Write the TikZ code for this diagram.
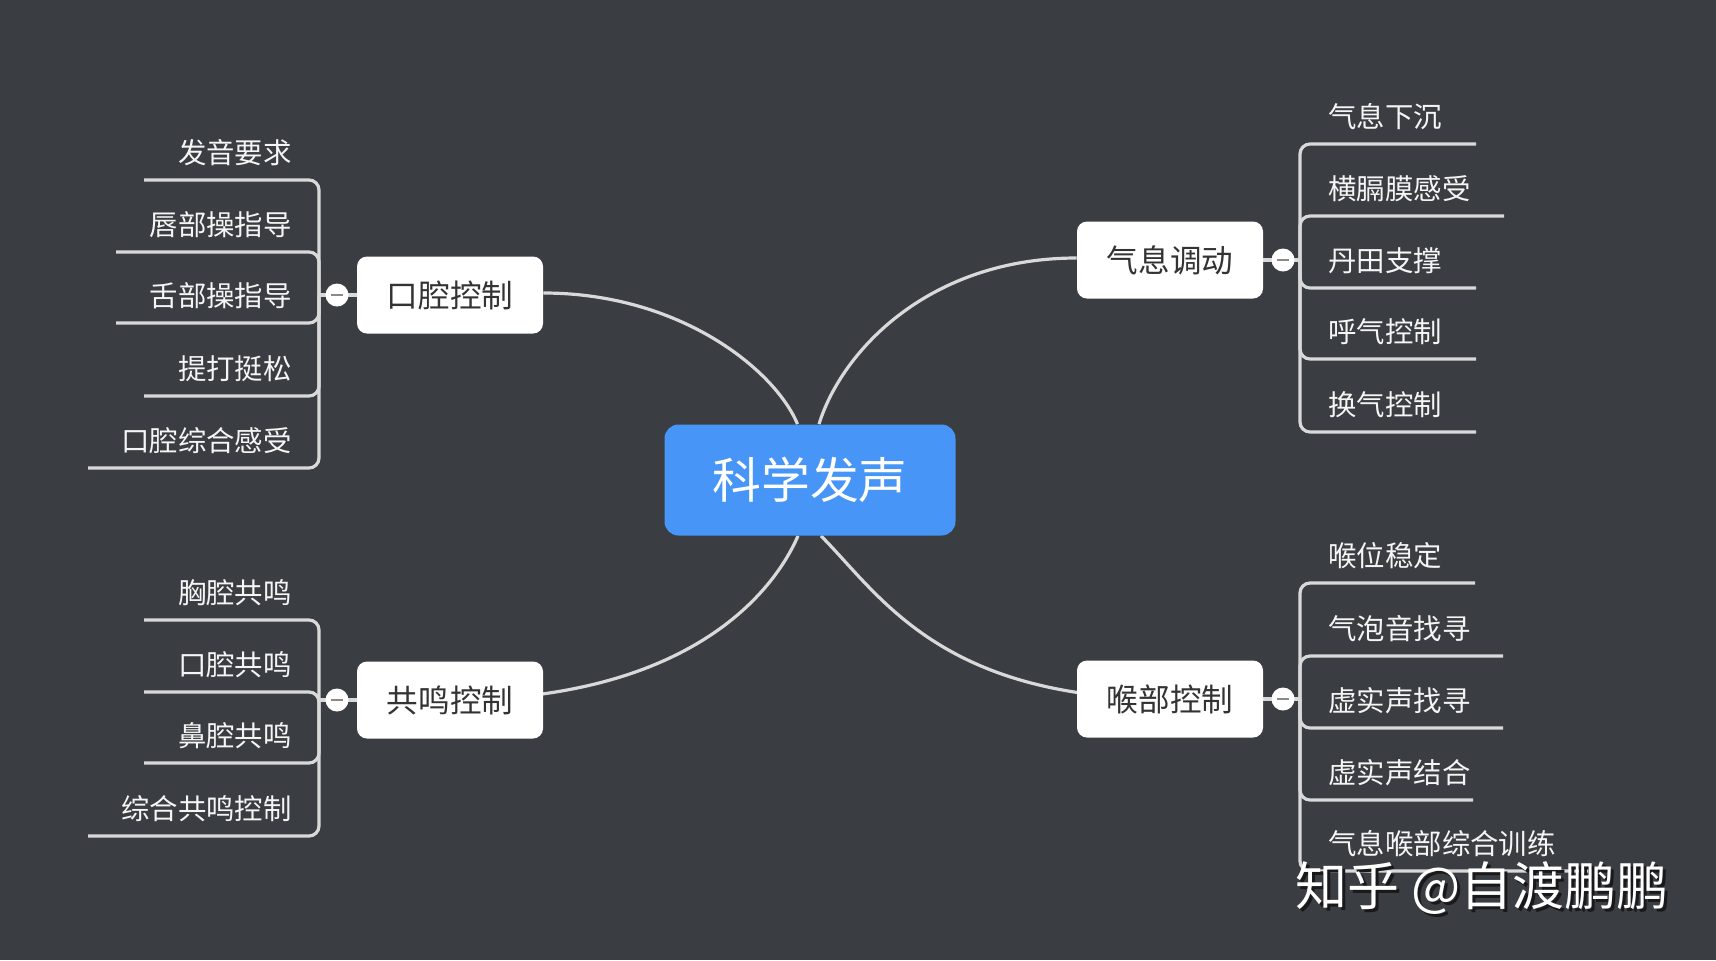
\documentclass[tikz,border=0pt]{standalone}
\usepackage{fontspec}
\setmainfont{Noto Sans CJK SC}
\usetikzlibrary{calc}
\pgfdeclarelayer{bg}
\pgfsetlayers{bg,main}
\definecolor{bgc}{RGB}{58,61,66}
\definecolor{linec}{RGB}{217,217,217}
\definecolor{rootc}{RGB}{72,149,248}
\definecolor{boxtext}{RGB}{51,51,51}
\definecolor{leafc}{RGB}{245,245,245}
\definecolor{minusc}{RGB}{138,138,138}
\definecolor{shadowc}{RGB}{25,25,28}
\tikzset{
  leaf/.style={font=\fontsize{14.2pt}{16pt}\selectfont, text=leafc, inner sep=0pt},
  leafL/.style={leaf, anchor=east},
  leafR/.style={leaf, anchor=west},
  mainbox/.style={rounded corners=5pt, fill=white, text=boxtext, minimum width=93pt,
    minimum height=38.5pt, inner sep=0pt, font=\fontsize{15.8pt}{18pt}\selectfont},
  rootbox/.style={rounded corners=7pt, fill=rootc, text=white, minimum width=145.5pt,
    minimum height=55.5pt, inner sep=0pt, font=\fontsize{24.4pt}{28pt}\selectfont},
  conn/.style={draw=linec, line width=1.6pt},
  brk/.style={conn, rounded corners=5pt},
  fold/.style={circle, fill=white, minimum size=11.5pt, inner sep=0pt,
    path picture={\draw[minusc, line width=1.4pt]
      ([xshift=-3.2pt]path picture bounding box.center) -- ([xshift=3.2pt]path picture bounding box.center);}},
  wmark/.style={font=\fontsize{26pt}{30pt}\selectfont, inner sep=0pt}
}
\begin{document}
\begin{tikzpicture}[x=0.5pt, y=-0.5pt]
\useasboundingbox (0,0) rectangle (1716,960);
\begin{pgfonlayer}{bg}
\fill[bgc] (0,0) rectangle (1716,960);
\end{pgfonlayer}

% main nodes
\node[rootbox] (root) at (810,480) {科学发声};
\node[mainbox] (kq) at (450,295) {口腔控制};
\node[mainbox] (qx) at (1170,260) {气息调动};
\node[mainbox] (gm) at (450,700) {共鸣控制};
\node[mainbox] (hb) at (1170,699) {喉部控制};

% junctions
\coordinate (kqj) at (319,295);
\coordinate (qxj) at (1300,260);
\coordinate (gmj) at (319,700);
\coordinate (hbj) at (1300,699);

\begin{pgfonlayer}{bg}
\draw[conn] ($(root.north)+(-12.5,0)$) .. controls (775,370) and (680,293) .. ($(kq.east)+(0,-2)$);
\draw[conn] ($(root.north)+(9,0)$) .. controls (842,350) and (930,258) .. ($(qx.west)+(0,-2)$);
\draw[conn] ($(root.south)+(-12,0)$) .. controls (770,600) and (680,700) .. (gm.center);
\draw[conn] ($(root.south)+(11,0)$) .. controls (880,595) and (940,699) .. (hb.center);
\draw[conn] (kq.west) -- (kqj);
\draw[conn] (qx.east) -- (qxj);
\draw[conn] (gm.west) -- (gmj);
\draw[conn] (hb.east) -- (hbj);
\end{pgfonlayer}

% fold circles
\node[fold] (kqf) at (337,295) {};
\node[fold] (qxf) at (1283,260) {};
\node[fold] (gmf) at (337,700) {};
\node[fold] (hbf) at (1283,699) {};

% group: 口腔控制
\foreach \t/\y/\f [count=\i] in {发音要求/180/144, 唇部操指导/252/116, 舌部操指导/323/116, 提打挺松/396/144, 口腔综合感受/468/88}{
  \node[leafL] (a\i) at (292,\y-27) {\t};
  \coordinate (a\i u) at (\f,\y);
  \draw[brk] (kqj) |- (a\i u);
}
% group: 气息调动
\foreach \t/\y/\f [count=\i] in {气息下沉/144/1476, 横膈膜感受/216/1504, 丹田支撑/288/1476, 呼气控制/359/1476, 换气控制/432/1476}{
  \node[leafR] (b\i) at (1328,\y-27) {\t};
  \coordinate (b\i u) at (\f,\y);
  \draw[brk] (qxj) |- (b\i u);
}
% group: 共鸣控制
\foreach \t/\y/\f [count=\i] in {胸腔共鸣/620/144, 口腔共鸣/692/144, 鼻腔共鸣/763/144, 综合共鸣控制/836/88}{
  \node[leafL] (c\i) at (292,\y-27) {\t};
  \coordinate (c\i u) at (\f,\y);
  \draw[brk] (gmj) |- (c\i u);
}
% group: 喉部控制
\foreach \t/\y/\f [count=\i] in {喉位稳定/583/1475, 气泡音找寻/656/1503, 虚实声找寻/728/1503, 虚实声结合/800/1473, 气息喉部综合训练/871/1588}{
  \node[leafR] (d\i) at (1328,\y-27) {\t};
  \coordinate (d\i u) at (\f,\y);
  \draw[brk] (hbj) |- (d\i u);
}

% watermark
\node[wmark, text=shadowc] (wms) at (1485,891) {知乎 @自渡鹏鹏};
\node[wmark, text=white] (wm) at (1482,888) {知乎 @自渡鹏鹏};
\end{tikzpicture}
\end{document}
